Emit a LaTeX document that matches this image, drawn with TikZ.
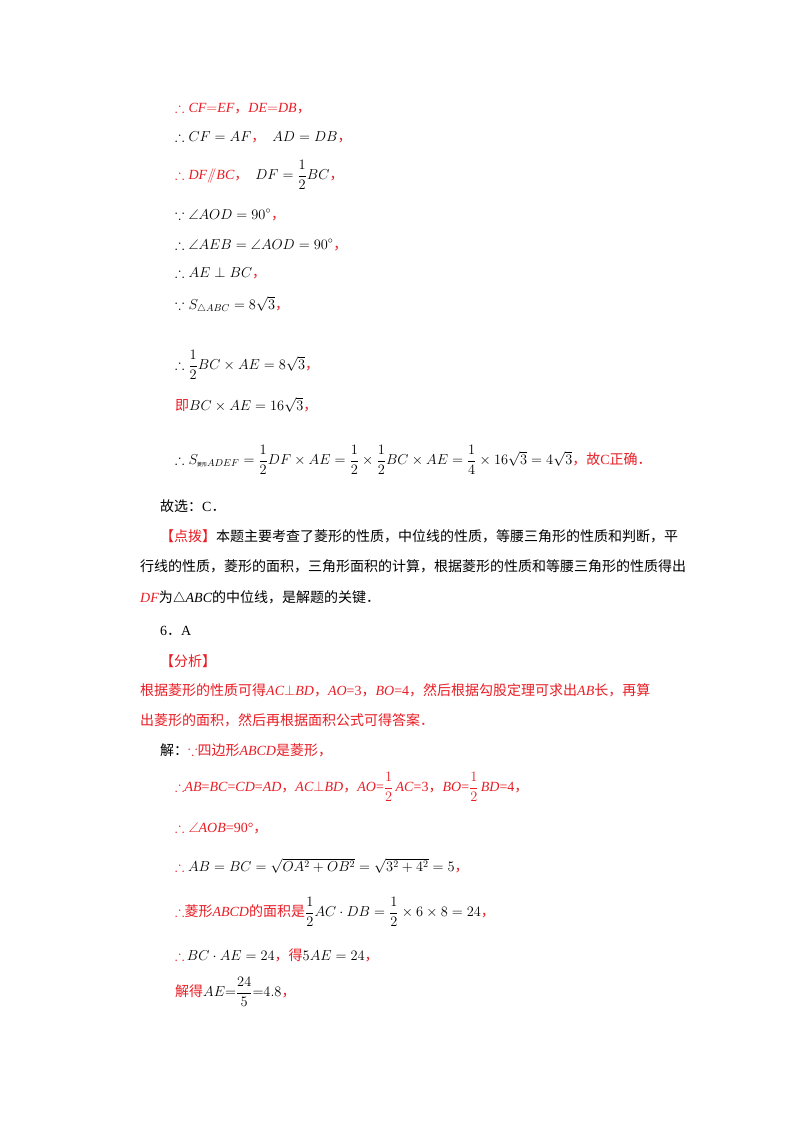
\documentclass[tikz,border=0pt]{standalone}
\usepackage{amsmath,amssymb}
\usepackage{fontspec}
\setmainfont{Liberation Serif}
\newfontfamily\cjk{Noto Sans CJK SC}
\newcommand{\zh}[1]{{\cjk #1}}
\definecolor{rd}{RGB}{232,28,36}
\begin{document}
\begin{tikzpicture}[x=1pt,y=-1pt,
 t/.style={anchor=west,inner sep=0pt,font=\fontsize{14}{16}\selectfont},
 r/.style={t,text=rd}]
\useasboundingbox (0,0) rectangle (800,1132);
\node[r] (l1) at (175,108) {$\therefore \mathit{CF{=}EF}$\zh{，}$\mathit{DE{=}DB}$\zh{，}};
\node[t] (l2) at (175,137) {$\therefore CF=AF$\textcolor{rd}{\zh{，}}\ \ $AD=DB$\textcolor{rd}{\zh{，}}};
\node[r] (l3) at (175,175) {$\therefore \mathit{DF}/\!\!/\mathit{BC}$\zh{，}\ \ \textcolor{black}{$DF=\dfrac12BC$}\zh{，}};
\node[t] (l4) at (175,215) {$\because \angle AOD=90^\circ$\textcolor{rd}{\zh{，}}};
\node[t] (l5) at (175,245) {$\therefore \angle AEB=\angle AOD=90^\circ$\textcolor{rd}{\zh{，}}};
\node[t] (l6) at (175,273) {$\therefore AE\perp BC$\textcolor{rd}{\zh{，}}};
\node[t] (l7) at (175,305) {$\because S_{\triangle ABC}=8\sqrt3$\textcolor{rd}{\zh{，}}};
\node[t] (l8) at (175,365) {$\therefore \dfrac12 BC\times AE=8\sqrt3$\textcolor{rd}{\zh{，}}};
\node[t] (l9) at (175,405) {\textcolor{rd}{\zh{即}}$BC\times AE=16\sqrt3$\textcolor{rd}{\zh{，}}};
\node[t] (l10) at (175,460) {$\therefore S_{\text{\zh{\tiny 菱形}}ADEF}=\dfrac12DF\times AE=\dfrac12\times\dfrac12BC\times AE=\dfrac14\times16\sqrt3=4\sqrt3$\textcolor{rd}{\zh{，故}C\zh{正确．}}};
\node[t] (l11) at (160,506) {\zh{故选：}C\zh{．}};
\node[t] (l12) at (160,536) {\textcolor{rd}{\zh{【点拨】}}\zh{本题主要考查了菱形的性质，中位线的性质，等腰三角形的性质和判断，平}};
\node[t] (l13) at (140,566) {\zh{行线的性质，菱形的面积，三角形面积的计算，根据菱形的性质和等腰三角形的性质得出}};
\node[t] (l14) at (140,598) {\textcolor{rd}{$\mathit{DF}$}\zh{为}$\triangle$\textit{ABC}\zh{的中位线，是解题的关键．}};
\node[t] (l15) at (160,631) {6\zh{．}A};
\node[r] (l16) at (160,661) {\zh{【分析】}};
\node[r] (l17) at (140,690) {\zh{根据菱形的性质可得}\textit{AC}$\perp$\textit{BD}\zh{，}\textit{AO}=3\zh{，}\textit{BO}=4\zh{，然后根据勾股定理可求出}\textit{AB}\zh{长，再算}};
\node[r] (l18) at (140,720) {\zh{出菱形的面积，然后再根据面积公式可得答案．}};
\node[t] (l19) at (160,750) {\zh{解：}\textcolor{rd}{$\because$\zh{四边形}\textit{ABCD}\zh{是菱形，}}};
\node[r] (l20) at (175,787) {$\therefore$\textit{AB}=\textit{BC}=\textit{CD}=\textit{AD}\zh{，}\textit{AC}$\perp$\textit{BD}\zh{，}\textit{AO}=$\dfrac12$\,\textit{AC}=3\zh{，}\textit{BO}=$\dfrac12$\,\textit{BD}=4\zh{，}};
\node[r] (l21) at (175,828) {$\therefore\angle$\textit{AOB}=90°\zh{，}};
\node[t] (l22) at (175,866) {\textcolor{rd}{$\therefore$}\ $AB=BC=\sqrt{OA^2+OB^2}=\sqrt{3^2+4^2}=5$\textcolor{rd}{\zh{，}}};
\node[t] (l23) at (175,912) {\textcolor{rd}{$\therefore$\zh{菱形}\textit{ABCD}\zh{的面积是}}$\dfrac12AC\cdot DB=\dfrac12\times6\times8=24$\textcolor{rd}{\zh{，}}};
\node[t] (l24) at (175,955) {\textcolor{rd}{$\therefore$}\,$BC\cdot AE=24$\textcolor{rd}{\zh{，得}}$5AE=24$\textcolor{rd}{\zh{，}}};
\node[t] (l25) at (175,992) {\textcolor{rd}{\zh{解得}}$AE{=}\dfrac{24}{5}{=}4.8$\textcolor{rd}{\zh{，}}};
\end{tikzpicture}
\end{document}
